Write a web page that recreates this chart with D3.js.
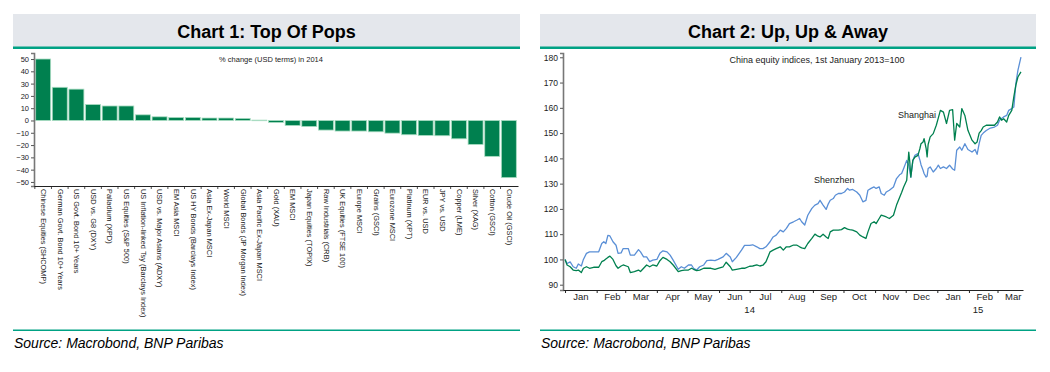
<!DOCTYPE html>
<html>
<head>
<meta charset="utf-8">
<script src="https://cdn.jsdelivr.net/npm/d3@7"></script>
<style>
  body { margin: 0; background: #fff; }
  svg { display: block; font-family: "Liberation Sans", Arial, sans-serif; }
</style>
</head>
<body>
<svg id="c" width="1050" height="372"></svg>
<script>
// ---------- Chart 1 data ----------
const categories = [
  "Chinese Equities (SHCOMP)", "German Govt. Bond 10+ Years", "US Govt. Bond 10+ Years",
  "USD vs. G8 (DXY)", "Palladium (XPD)", "US Equities (S&P 500)",
  "US Inflation-linked Tsy (Barclays Index)", "USD vs. Major Asians (ADXY)", "EM Asia MSCI",
  "US HY Bonds (Barclays Index)", "Asia Ex-Japan MSCI", "World MSCI",
  "Global Bonds (JP Morgan Index)", "Asia Pacific Ex-Japan MSCI", "Gold (XAU)",
  "EM MSCI", "Japan Equities (TOPIX)", "Raw Industrials (CRB)", "UK Equities (FTSE 100)",
  "Europe MSCI", "Grains (GSCI)", "Eurozone MSCI", "Platinum (XPT)", "EUR vs. USD",
  "JPY vs. USD", "Copper (LME)", "Silver (XAG)", "Cotton (GSCI)", "Crude Oil (GSCI)"
];
const changes2014 = [
  50.0, 27.0, 25.5, 13.0, 11.8, 11.8, 4.6, 3.0, 2.5, 2.5, 2.0, 2.0, 1.7, 0.3, -1.6,
  -4.1, -4.9, -7.8, -8.6, -8.6, -9.2, -10.3, -11.6, -12.2, -12.4, -14.9, -19.5, -29.2, -46.5
];
const chart1Ticks = [-50, -40, -30, -20, -10, 0, 10, 20, 30, 40, 50];

// ---------- Chart 2 data ----------
const dates = [
  "2014-01-01","2014-01-03","2014-01-06","2014-01-09","2014-01-12","2014-01-14","2014-01-17","2014-01-19",
  "2014-01-22","2014-01-25","2014-01-29","2014-02-03","2014-02-06","2014-02-08","2014-02-10","2014-02-12",
  "2014-02-14","2014-02-17","2014-02-20","2014-02-22","2014-02-25","2014-02-27","2014-03-04","2014-03-06",
  "2014-03-10","2014-03-14","2014-03-16","2014-03-19","2014-03-22","2014-03-25","2014-03-28","2014-04-01",
  "2014-04-04","2014-04-07","2014-04-11","2014-04-14","2014-04-17","2014-04-22","2014-04-25","2014-04-28",
  "2014-05-02","2014-05-05","2014-05-07","2014-05-10","2014-05-13","2014-05-17","2014-05-20","2014-05-24",
  "2014-05-28","2014-05-31","2014-06-05","2014-06-08","2014-06-12","2014-06-14","2014-06-18","2014-06-23",
  "2014-06-26","2014-07-01","2014-07-04","2014-07-08","2014-07-11","2014-07-14","2014-07-17","2014-07-21",
  "2014-07-24","2014-07-27","2014-07-31","2014-08-03","2014-08-06","2014-08-09","2014-08-13","2014-08-16",
  "2014-08-19","2014-08-21","2014-08-24","2014-08-27","2014-08-31","2014-09-03","2014-09-06","2014-09-08",
  "2014-09-11","2014-09-14","2014-09-16","2014-09-18","2014-09-21","2014-09-23","2014-09-26","2014-09-29",
  "2014-10-02","2014-10-05","2014-10-07","2014-10-10","2014-10-14","2014-10-17","2014-10-20","2014-10-23",
  "2014-10-25","2014-10-28","2014-10-31","2014-11-02","2014-11-05","2014-11-07","2014-11-10","2014-11-12",
  "2014-11-15","2014-11-19","2014-11-22","2014-11-25","2014-11-27","2014-11-29","2014-12-02","2014-12-04",
  "2014-12-05","2014-12-06","2014-12-08","2014-12-10","2014-12-13","2014-12-15","2014-12-16","2014-12-18",
  "2014-12-19","2014-12-21","2014-12-22","2014-12-23","2014-12-25","2014-12-28","2014-12-31","2015-01-02",
  "2015-01-04","2015-01-07","2015-01-10","2015-01-13","2015-01-16","2015-01-18","2015-01-20","2015-01-23",
  "2015-01-25","2015-01-28","2015-01-31","2015-02-04","2015-02-07","2015-02-09","2015-02-11","2015-02-13",
  "2015-02-15","2015-02-18","2015-02-22","2015-02-26","2015-03-01","2015-03-03","2015-03-05","2015-03-07",
  "2015-03-10","2015-03-12","2015-03-15","2015-03-17","2015-03-19","2015-03-21","2015-03-24"
];
const shenzhen = [
  100.0, 98.4, 99.0, 97.1, 96.5, 98.2, 97.4, 100.0,
  102.4, 103.0, 103.0, 103.0, 106.3, 107.0, 106.3, 109.5,
  109.3, 107.0, 105.6, 102.4, 102.6, 104.3, 104.3, 101.7,
  101.7, 103.9, 103.0, 101.0, 101.0, 99.1, 99.7, 100.0,
  102.4, 103.4, 103.0, 101.7, 99.7, 96.1, 97.1, 96.5,
  97.8, 97.8, 96.5, 95.8, 97.1, 97.8, 99.5, 99.7,
  99.5, 100.0, 101.0, 102.4, 101.0, 99.1, 100.8, 103.7,
  105.6, 105.6, 105.8, 105.0, 104.3, 104.3, 105.0, 107.0,
  108.9, 109.6, 111.6, 110.9, 112.3, 114.2, 114.9, 115.5,
  116.2, 114.9, 113.6, 117.5, 120.2, 121.5, 122.1, 123.4,
  121.5, 119.8, 121.9, 123.4, 124.1, 125.4, 126.1, 126.1,
  126.7, 128.1, 127.4, 127.7, 126.7, 125.4, 122.8, 123.4,
  127.4, 128.1, 128.7, 128.1, 128.7, 126.1, 125.4, 126.7,
  127.4, 128.7, 132.0, 133.5, 134.0, 136.0, 139.2, 137.3,
  135.0, 132.6, 139.2, 141.2, 141.9, 139.2, 137.5, 135.3,
  134.0, 132.6, 133.0, 136.0, 136.6, 134.6, 136.0, 137.3,
  136.0, 136.6, 136.0, 137.3, 135.8, 135.3, 143.2, 144.5,
  143.2, 145.8, 143.5, 142.5, 143.5, 141.6, 145.8, 149.1,
  150.0, 151.0, 152.0, 152.4, 153.1, 155.1, 155.8, 156.4,
  157.0, 159.0, 159.7, 160.3, 169.6, 174.8, 180.1
];
const shanghai = [
  100.0, 97.8, 97.1, 95.8, 95.6, 95.8, 94.8, 96.5,
  97.1, 96.5, 96.9, 96.9, 99.1, 99.5, 100.2, 100.8,
  101.3, 100.0, 97.5, 96.5, 97.4, 97.8, 97.1, 94.8,
  95.2, 95.8, 95.2, 96.5, 97.8, 97.1, 97.8, 97.4,
  99.5, 100.8, 100.0, 99.1, 97.8, 95.2, 95.6, 95.8,
  95.8, 96.5, 96.1, 95.6, 95.8, 96.5, 96.5, 96.5,
  96.1, 96.5, 97.1, 98.9, 97.1, 95.8, 96.1, 96.5,
  96.5, 97.3, 97.4, 97.8, 97.4, 97.7, 99.1, 103.0,
  103.7, 104.3, 105.0, 103.7, 105.0, 105.0, 105.7, 105.7,
  105.0, 104.6, 104.3, 106.3, 108.3, 110.0, 109.2, 108.9,
  110.0, 108.9, 108.3, 110.9, 111.6, 111.6, 111.6, 111.8,
  112.6, 112.0, 111.8, 111.6, 110.9, 109.6, 108.9, 108.3,
  110.9, 114.2, 114.9, 114.2, 116.2, 117.5, 117.1, 116.8,
  116.2, 117.5, 121.5, 124.5, 126.5, 128.7, 131.3, 142.5,
  138.6, 132.6, 139.2, 140.5, 141.2, 144.0, 145.8, 146.5,
  147.8, 144.0, 140.6, 145.5, 148.5, 149.8, 153.1, 156.0,
  159.0, 158.3, 153.8, 159.0, 159.3, 147.2, 153.8, 152.4,
  159.7, 157.0, 151.1, 147.2, 145.8, 146.5, 150.0, 151.0,
  152.4, 153.1, 153.1, 153.1, 154.4, 156.4, 155.1, 155.7,
  154.4, 157.0, 159.0, 164.3, 169.0, 172.2, 174.2
];
const chart2Ticks = [90, 100, 110, 120, 130, 140, 150, 160, 170, 180];
const monthLabelDates = [
  "2014-01-16","2014-02-16","2014-03-16","2014-04-16","2014-05-16","2014-06-16","2014-07-16",
  "2014-08-16","2014-09-16","2014-10-16","2014-11-16","2014-12-16","2015-01-16","2015-02-16","2015-03-16"
];
const yearLabels = ["14", "15"];
const yearLabelDates = ["2014-07-01", "2015-02-10"];

// ---------- drawing ----------
const svg = d3.select("#c");
const parse = d3.timeParse("%Y-%m-%d");
const GREEN = "#00804f";
const TEAL = "#00a284";
const BLUE = "#5a8fd6";

function panel(x0, x1, title) {
  svg.append("rect").attr("x", x0).attr("y", 14).attr("width", x1 - x0).attr("height", 33).attr("fill", "#e4e7ec");
  svg.append("rect").attr("x", x0).attr("y", 46.5).attr("width", x1 - x0).attr("height", 2.5).attr("fill", TEAL);
  svg.append("text").attr("x", (x0 + x1) / 2).attr("y", 38).attr("text-anchor", "middle")
    .attr("font-size", 18).attr("font-weight", "bold").attr("fill", "#000").text(title);
  svg.append("rect").attr("x", x0).attr("y", 329.5).attr("width", x1 - x0).attr("height", 1.5).attr("fill", TEAL);
  svg.append("text").attr("x", x0 + 1).attr("y", 348).attr("font-size", 14).attr("font-style", "italic")
    .attr("fill", "#000").text("Source: Macrobond, BNP Paribas");
}
panel(13, 520, "Chart 1: Top Of Pops");
panel(540, 1036, "Chart 2: Up, Up & Away");

// ----- Chart 1 -----
const x1 = d3.scaleBand().domain(categories).range([34, 518]).paddingInner(0.1).paddingOuter(0.1);
const y1 = d3.scaleLinear().domain([-53.3, 54.9]).range([186, 53]);
const g1 = svg.append("g");

g1.selectAll("rect.bar").data(categories).join("rect").attr("class", "bar")
  .attr("x", d => x1(d))
  .attr("width", x1.bandwidth())
  .attr("y", (d, i) => y1(Math.max(0, changes2014[i])))
  .attr("height", (d, i) => Math.max(0.6, Math.abs(y1(changes2014[i]) - y1(0))))
  .attr("fill", GREEN).attr("stroke", "#a9dcc2").attr("stroke-width", 0.8);

const yAx1 = g1.append("g").attr("transform", "translate(34,0)")
  .call(d3.axisLeft(y1).tickValues(chart1Ticks).tickSize(3).tickPadding(2));
yAx1.select(".domain").attr("stroke", "#777").attr("stroke-width", 1.6);
yAx1.selectAll(".tick line").attr("stroke", "#555");
yAx1.selectAll(".tick text").attr("font-size", 7.5).attr("fill", "#222").attr("font-family", "Liberation Sans, Arial, sans-serif");

const xAx1 = g1.append("g").attr("transform", "translate(0,186)")
  .call(d3.axisBottom(x1).tickSize(0).tickSizeOuter(0));
xAx1.select(".domain").attr("stroke", "#222").attr("stroke-width", 1);
xAx1.selectAll(".tick text")
  .attr("font-size", 7.4).attr("fill", "#222").attr("font-family", "Liberation Sans, Arial, sans-serif")
  .attr("text-anchor", "start").attr("transform", "rotate(90)")
  .attr("x", 3).attr("y", 0).attr("dy", "0.3em");
// boundary ticks between bars
const step1 = x1.step();
g1.selectAll("line.bt").data(categories).join("line").attr("class", "bt")
  .attr("x1", d => x1(d) - step1 * 0.05).attr("x2", d => x1(d) - step1 * 0.05)
  .attr("y1", 186).attr("y2", 189).attr("stroke", "#222").attr("stroke-width", 0.8);

g1.append("text").attr("x", 271).attr("y", 62).attr("text-anchor", "middle")
  .attr("font-size", 7.5).attr("fill", "#222").text("% change (USD terms) in 2014");

// ----- Chart 2 -----
const dts = dates.map(parse);
const x2 = d3.scaleTime().domain([parse("2013-12-30"), parse("2015-03-26")]).range([563, 1023]);
const y2 = d3.scaleLinear().domain([87.9, 181.7]).range([290, 53]);
const g2 = svg.append("g");

const line = vals => d3.line().x((d, i) => x2(dts[i])).y((d) => y2(d))(vals);
g2.append("path").attr("d", line(shenzhen)).attr("fill", "none").attr("stroke", BLUE).attr("stroke-width", 1.3).attr("stroke-linejoin", "round");
g2.append("path").attr("d", line(shanghai)).attr("fill", "none").attr("stroke", GREEN).attr("stroke-width", 1.3).attr("stroke-linejoin", "round");

const yAx2 = g2.append("g").attr("transform", "translate(563,0)")
  .call(d3.axisLeft(y2).tickValues(chart2Ticks).tickSize(3).tickPadding(2));
yAx2.select(".domain").attr("stroke", "#777").attr("stroke-width", 1.6);
yAx2.selectAll(".tick line").attr("stroke", "#555");
yAx2.selectAll(".tick text").attr("font-size", 8.5).attr("fill", "#222").attr("font-family", "Liberation Sans, Arial, sans-serif");

const xAx2 = g2.append("g").attr("transform", "translate(0,290)")
  .call(d3.axisBottom(x2).ticks(d3.timeMonth.every(1)).tickSize(3).tickSizeOuter(0).tickFormat(""));
xAx2.select(".domain").attr("stroke", "#222").attr("stroke-width", 1);
xAx2.selectAll(".tick line").attr("stroke", "#222");

const xLab2 = g2.append("g").attr("transform", "translate(0,290)")
  .call(d3.axisBottom(x2).tickValues(monthLabelDates.map(parse)).tickSize(0).tickPadding(3).tickFormat(d3.timeFormat("%b")));
xLab2.select(".domain").remove();
xLab2.selectAll(".tick text").attr("font-size", 9.5).attr("fill", "#222").attr("font-family", "Liberation Sans, Arial, sans-serif");

g2.selectAll("text.yr").data(yearLabels).join("text").attr("class", "yr")
  .attr("x", (d, i) => x2(parse(yearLabelDates[i]))).attr("y", 312.5)
  .attr("text-anchor", "middle").attr("font-size", 9.5).attr("fill", "#222").text(d => d);

g2.append("text").attr("x", 817).attr("y", 63).attr("text-anchor", "middle")
  .attr("font-size", 9).attr("fill", "#222").text("China equity indices, 1st January 2013=100");
g2.append("text").attr("x", 898).attr("y", 118).attr("font-size", 9).attr("fill", "#222").text("Shanghai");
g2.append("text").attr("x", 814).attr("y", 182.5).attr("font-size", 9).attr("fill", "#222").text("Shenzhen");
</script>
</body>
</html>
